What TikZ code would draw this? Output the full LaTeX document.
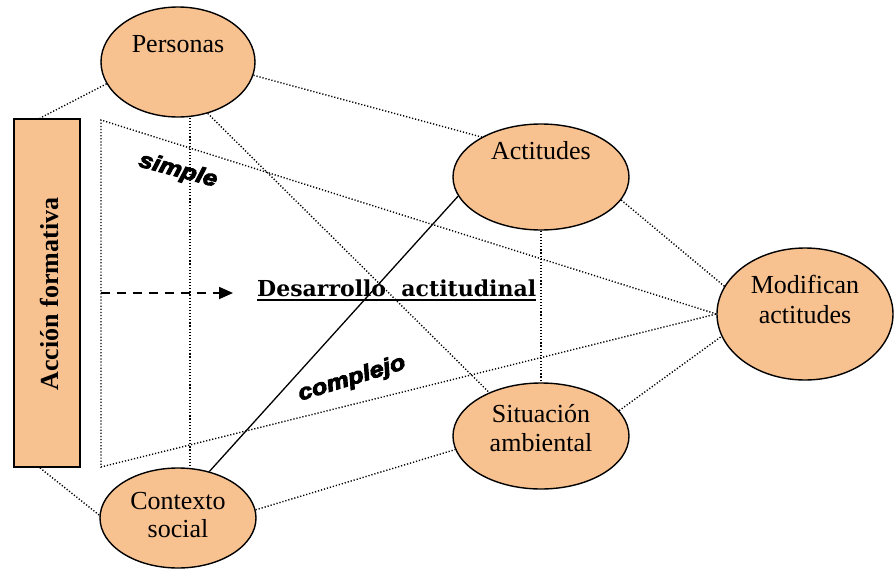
\documentclass[tikz,border=0pt]{standalone}
\usepackage{fontspec}
\setmainfont{Liberation Serif}
\newfontfamily\dejaserif{DejaVu Serif}
\newfontfamily\lsans{Liberation Sans}
\usetikzlibrary{shapes.geometric,arrows.meta,calc}
\definecolor{peach}{RGB}{248,193,144}
\newcommand{\heavytext}[1]{\special{pdf:literal direct 2 Tr 0.9 w}#1\special{pdf:literal direct 0 Tr}}
\begin{document}
\begin{tikzpicture}[x=1pt,y=-1pt,
  bubble/.style={ellipse,draw=black,line width=1.4pt,fill=peach,inner sep=0pt},
  lbl/.style={font=\fontsize{26}{30}\selectfont,inner sep=0pt,anchor=base},
  dotline/.style={line width=1.4pt,dash pattern=on 1.2pt off 1.9pt},
  tilted/.style={font=\lsans\bfseries\itshape\fontsize{22}{24}\selectfont,inner sep=0pt}]
\useasboundingbox (0,0) rectangle (895,573);

% shapes
\node[bubble,minimum width=154pt,minimum height=110pt] (pers) at (178,62) {};
\node[bubble,minimum width=176pt,minimum height=106pt] (act) at (541,177) {};
\node[bubble,minimum width=176pt,minimum height=132pt] (mod) at (805,314) {};
\node[bubble,minimum width=176pt,minimum height=106pt] (sit) at (541,436) {};
\node[bubble,minimum width=156pt,minimum height=100pt] (ctx) at (178,518) {};
\node[draw=black,line width=1.8pt,fill=peach,minimum width=66pt,minimum height=348pt,inner sep=0pt] (acc) at (47,293) {};

% texts
\node[lbl] (perst) at (178,52) {Personas};
\node[lbl] (actt) at (541,159) {Actitudes};
\node[lbl] (modt1) at (805,293) {Modifican};
\node[lbl] (modt2) at (805,323) {actitudes};
\node[lbl] (sitt1) at (541,422) {Situación};
\node[lbl] (sitt2) at (541,451) {ambiental};
\node[lbl] (ctxt1) at (178,509) {Contexto};
\node[lbl] (ctxt2) at (178,537) {social};
\node[font=\bfseries\fontsize{26}{30}\selectfont,rotate=90,inner sep=0pt] (acct) at (49,294) {Acción formativa};

% dotted connectors
\draw[dotline] (pers.197) -- ([xshift=-7pt]acc.north);
\draw[dotline] ([xshift=-7pt]acc.south) -- (ctx.178);
\draw[dotline] (pers.-10) -- (act.146);
\draw[dotline] (pers.-60) -- (sit.140);
\coordinate (v1) at ([xshift=12pt]pers.south);
\draw[dotline] (v1) -- (v1 |- ctx.north);
\coordinate (w1) at (101,120);
\coordinate (w2) at (101,467);
\draw[dotline] (mod.west) -- (w1) -- (w2) -- (mod.west);
\draw[dotline] (act.-16) -- (mod.161);
\draw[dotline] (sit.18) -- (mod.195);
\draw[dotline] (act.south) -- (sit.north);
\draw[dotline] (ctx.6) -- (sit.189);
\draw[line width=1.3pt] (ctx.56) -- (act.193);

% desarrollo
\node[font=\dejaserif\bfseries\fontsize{22}{24}\selectfont,inner sep=0pt,anchor=base west] (des) at (257,296) {Desarrollo\ \ actitudinal};
\draw[line width=2pt] ([yshift=-4pt]des.base west) -- ([yshift=-4pt]des.base east);
\coordinate (a0) at (101,293);
\coordinate (a1) at (233,293);
\draw[line width=1.8pt,dash pattern=on 9pt off 7pt,-{Triangle[length=14pt,width=12pt]}] (a0) -- (a1);

% tilted labels
\node[tilted,rotate=-15] (simp) at (178,171) {\heavytext{\scalebox{1.15}[1]{simple}}};
\node[tilted,rotate=17] (comp) at (352,379) {\heavytext{\scalebox{1.15}[1]{complejo}}};
\end{tikzpicture}
\end{document}
